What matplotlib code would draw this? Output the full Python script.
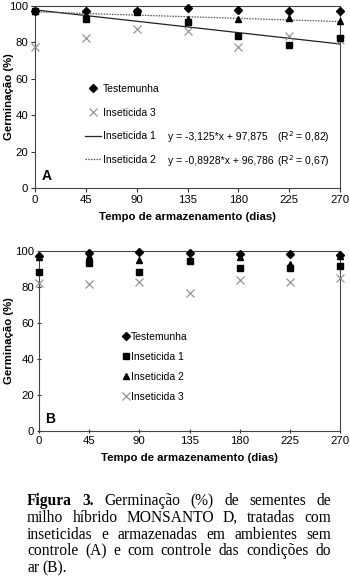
import matplotlib
matplotlib.use("Agg")
import matplotlib.pyplot as plt
from matplotlib.lines import Line2D
import numpy as np

plt.rcParams["font.family"] = ["Liberation Sans", "DejaVu Sans"]

# storage time (days)
dias = [0, 45, 90, 135, 180, 225, 270]
x_ticks = [0, 45, 90, 135, 180, 225, 270]
y_ticks = [0, 20, 40, 60, 80, 100]

# Panel A - no control of storage conditions
a_testemunha = [97, 97.4, 97, 99.1, 98, 97.3, 97]
a_inset1 = [97, 93, 96.7, 91, 83.6, 78.5, 82.5]
a_inset2 = [97, 95, 97, 93, 92.7, 93.6, 91.8]
a_inset3 = [77.2, 82.5, 87.6, 86.3, 77.2, 83.6, 81.2]
# regressions, x = storage period index (days / 45)
reg1 = (-3.125, 97.875)
reg2 = (-0.8928, 96.786)
eq1 = "y = -3,125*x + 97,875"
eq2 = "y = -0,8928*x + 96,786"
r2_1 = "(R$^2$ = 0,82)"
r2_2 = "(R$^2$ = 0,67)"

# Panel B - controlled air conditions
b_testemunha = [97.5, 98.7, 99.3, 98.9, 98.3, 98.5, 98]
b_inset1 = [88.1, 93.1, 88.1, 94.3, 90.4, 90.4, 91.7]
b_inset2 = [96.9, 97.5, 94.8, 95, 96.5, 93, 97.2]
b_inset3 = [82, 81.5, 82.9, 76.5, 83.9, 82.6, 85.2]

caption_lines = [
    ["Figura", "3.", "Germinação", "(%)", "de", "sementes", "de"],
    ["milho", "híbrido", "MONSANTO", "D,", "tratadas", "com"],
    ["inseticidas", "e", "armazenadas", "em", "ambientes", "sem"],
    ["controle", "(A)", "e", "com", "controle", "das", "condições", "do"],
    ["ar", "(B)."],
]
bold_words = {(0, 0), (0, 1)}

W, H = 350, 579
fig = plt.figure(figsize=(W / 100, H / 100), dpi=100)

def px_axes(left, top, right, bottom):
    return fig.add_axes([left / W, 1 - bottom / H, (right - left) / W, (bottom - top) / H])

def style(ax, tickdir, left_px):
    ax.set_xlim(0, 270)
    ax.set_ylim(0, 100)
    ax.set_xticks(x_ticks)
    ax.set_yticks(y_ticks)
    ax.tick_params(direction=tickdir, length=3, width=0.8, labelsize=8.2, pad=2,
                   colors="#333333", labelcolor="black")
    for s in ax.spines.values():
        s.set_linewidth(0.8)
        s.set_color("#444444")
    ax.set_xlabel("Tempo de armazenamento (dias)", fontsize=8.2, fontweight="bold", labelpad=5)
    ax.set_ylabel("Germinação (%)", fontsize=8.2, fontweight="bold")
    bbox = ax.get_position()
    # label's right edge about 14 px from the figure's left side
    ax.yaxis.set_label_coords(-(left_px - 14) / (bbox.width * W), 0.5)

gray_x = "#8a8a8a"

# ----- Panel A -----
axA = px_axes(35, 6, 340, 188)
t = np.array(dias) / 45.0
axA.plot(dias, reg1[0] * t + reg1[1], color="#222222", lw=0.9, zorder=2)
axA.plot(dias, reg2[0] * t + reg2[1], color="#555555", lw=0.9, ls=(0, (1.2, 1.0)), zorder=2)
axA.plot(dias, a_inset3, ls="none", marker="x", ms=6, mew=0.8, color=gray_x, clip_on=False, zorder=3)
axA.plot(dias, a_inset2, ls="none", marker="^", ms=5, color="black", clip_on=False, zorder=3)
axA.plot(dias, a_inset1, ls="none", marker="s", ms=5, color="black", clip_on=False, zorder=4)
axA.plot(dias, a_testemunha, ls="none", marker="D", ms=3.8, color="black", clip_on=False, zorder=5)
style(axA, "out", 35)

hA = [
    Line2D([], [], ls="none", marker="D", ms=3.8, color="black"),
    Line2D([], [], ls="none", marker="x", ms=6, mew=0.8, color=gray_x),
    Line2D([], [], color="#222222", lw=0.9),
    Line2D([], [], color="#555555", lw=0.9, ls=(0, (1.2, 1.0))),
]
axA.legend(hA, ["Testemunha", "Inseticida 3", "Inseticida 1", "Inseticida 2"],
           loc="upper left", bbox_to_anchor=(0.165, 0.571), frameon=False,
           fontsize=7.5, handlelength=1.5, handletextpad=0.15,
           labelspacing=1.3, borderpad=0, borderaxespad=0)
axA.text(118, 28, eq1, fontsize=7.5, va="center")
axA.text(118, 14.6, eq2, fontsize=7.5, va="center")
axA.text(214, 28, r2_1, fontsize=7.5, va="center")
axA.text(214, 14.6, r2_2, fontsize=7.5, va="center")
axA.text(0.023, 0.044, "A", transform=axA.transAxes, fontsize=10, fontweight="bold")

# ----- Panel B -----
axB = px_axes(39, 251, 340, 431)
axB.plot(dias, b_inset3, ls="none", marker="x", ms=6, mew=0.8, color=gray_x, clip_on=False, zorder=3)
axB.plot(dias, b_inset1, ls="none", marker="s", ms=5, color="black", clip_on=False, zorder=4)
axB.plot(dias, b_inset2, ls="none", marker="^", ms=5, color="black", clip_on=False, zorder=4)
axB.plot(dias, b_testemunha, ls="none", marker="D", ms=3.8, color="black", clip_on=False, zorder=5)
style(axB, "inout", 39)

hB = [
    Line2D([], [], ls="none", marker="D", ms=3.8, color="black"),
    Line2D([], [], ls="none", marker="s", ms=5, color="black"),
    Line2D([], [], ls="none", marker="^", ms=5, color="black"),
    Line2D([], [], ls="none", marker="x", ms=6, mew=0.8, color=gray_x),
]
axB.legend(hB, ["Testemunha", "Inseticida 1", "Inseticida 2", "Inseticida 3"],
           loc="upper left", bbox_to_anchor=(0.277, 0.55), frameon=False,
           fontsize=7.5, handlelength=0.6, handletextpad=0.2,
           labelspacing=0.95, borderpad=0, borderaxespad=0)
axB.text(0.02, 0.044, "B", transform=axB.transAxes, fontsize=10, fontweight="bold")

# ----- caption, justified -----
renderer = fig.canvas.get_renderer()
x_left, x_right = 27, 331
y0, dy = 505, 16.8
for i, words in enumerate(caption_lines):
    objs = []
    for j, w in enumerate(words):
        o = fig.text(0, 1 - (y0 + i * dy) / H, w, fontsize=11.2,
                     family=["Liberation Serif", "DejaVu Serif"],
                     fontweight="bold" if (i, j) in bold_words else "normal",
                     va="baseline", ha="left")
        objs.append(o)
    widths = [o.get_window_extent(renderer).width for o in objs]
    if i < len(caption_lines) - 1 and len(objs) > 1:
        gap = (x_right - x_left - sum(widths)) / (len(objs) - 1)
    else:
        gap = 3.5
    x = x_left
    for o, w in zip(objs, widths):
        o.set_x(x / W)
        x += w + gap

fig.savefig("out.png", dpi=100)
